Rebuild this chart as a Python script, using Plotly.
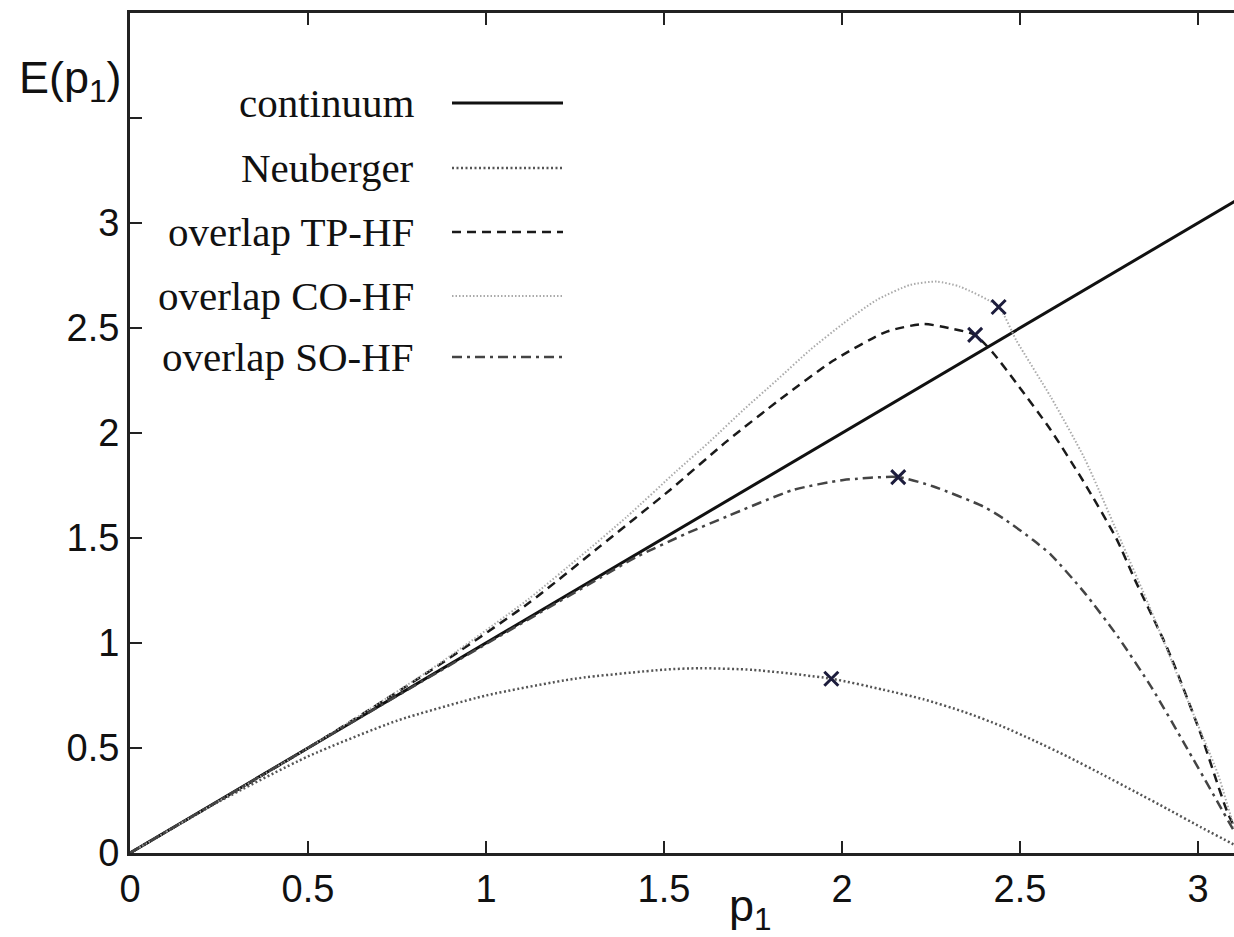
import plotly.graph_objects as go

# ---------------- data ----------------
cont_p = [0.0, 3.1416]
cont_E = [0.0, 3.1416]

neu_p = [0, 0.25, 0.5, 0.75, 1.0, 1.25, 1.5, 1.6, 1.75, 1.97, 2.115, 2.229, 2.343,
         2.447, 2.540, 2.634, 2.728, 2.822, 2.916, 3.009, 3.094, 3.1416]
neu_E = [0, 0.245, 0.46, 0.63, 0.75, 0.83, 0.873, 0.88, 0.872, 0.83, 0.778, 0.732, 0.672,
         0.605, 0.535, 0.459, 0.377, 0.293, 0.208, 0.122, 0.046, 0]

tp_p = [0, 0.5, 0.85, 1.12, 1.32, 1.517, 1.676, 1.826, 1.976, 2.126, 2.229, 2.30, 2.374,
        2.425, 2.49, 2.584, 2.678, 2.77, 2.822, 2.916, 3.009, 3.084, 3.1416]
tp_E = [0, 0.5, 0.875, 1.19, 1.46, 1.729, 1.96, 2.16, 2.345, 2.483, 2.519, 2.50, 2.467,
        2.38, 2.237, 2.02, 1.77, 1.50, 1.304, 0.966, 0.561, 0.189, 0]

co_p = [0, 0.5, 0.85, 1.12, 1.264, 1.395, 1.536, 1.629, 1.723, 1.817, 1.91, 2.004, 2.097,
        2.191, 2.266, 2.331, 2.44, 2.49, 2.587, 2.681, 2.775, 2.869, 2.962, 3.056, 3.103, 3.1416]
co_E = [0, 0.5, 0.88, 1.21, 1.411, 1.60, 1.82, 1.96, 2.11, 2.252, 2.395, 2.522, 2.633,
        2.705, 2.721, 2.697, 2.60, 2.44, 2.17, 1.88, 1.52, 1.152, 0.764, 0.375, 0.122, 0]

so_p = [0, 0.5, 1.0, 1.32, 1.423, 1.564, 1.676, 1.863, 2.004, 2.158, 2.257, 2.397, 2.456,
        2.537, 2.587, 2.681, 2.775, 2.869, 2.962, 3.056, 3.103, 3.1416]
so_E = [0, 0.5, 0.995, 1.31, 1.41, 1.522, 1.602, 1.729, 1.776, 1.79, 1.745, 1.65, 1.59,
        1.49, 1.42, 1.24, 1.03, 0.79, 0.52, 0.24, 0.10, 0]

mark_p = [1.97, 2.158, 2.374, 2.44]
mark_E = [0.83, 1.79, 2.467, 2.60]

legend_labels = ["continuum", "Neuberger", "overlap TP-HF", "overlap CO-HF", "overlap SO-HF"]

x_ticks = [0, 0.5, 1, 1.5, 2, 2.5, 3]
x_tick_text = ["0", "0.5", "1", "1.5", "2", "2.5", "3"]
y_ticks = [0, 0.5, 1, 1.5, 2, 2.5, 3]
y_tick_text = ["0", "0.5", "1", "1.5", "2", "2.5", "3"]
y_minor_ticks = [3.5]

# ---------------- styles ----------------
styles = [
    dict(color="#111111", width=3, dash="solid"),
    dict(color="#555555", width=2.5, dash="2px,2.5px"),
    dict(color="#1a1a1a", width=2.5, dash="9px,6px"),
    dict(color="#aaaaaa", width=2, dash="1.5px,2px"),
    dict(color="#444444", width=2.5, dash="10px,5px,3px,5px"),
]

W, H = 1234, 937
L, R, T, B = 130, 0, 13, 84
PX_PER_X = 356.0
x_max = (W - L - R) / PX_PER_X

fig = go.Figure()
series = [(cont_p, cont_E), (neu_p, neu_E), (tp_p, tp_E), (co_p, co_E), (so_p, so_E)]
for (px, py), st, name in zip(series, styles, legend_labels):
    fig.add_trace(go.Scatter(x=px, y=py, mode="lines", name=name, line=st,
                             line_shape="spline", line_smoothing=0.6, showlegend=False))

fig.add_trace(go.Scatter(x=mark_p, y=mark_E, mode="markers", showlegend=False,
                         marker=dict(symbol="x-thin", size=14,
                                     line=dict(width=3, color="#1c1c3c"))))

# ---------------- helper: pixel -> paper ----------------
pw = W - L - R
ph = H - T - B
def pxx(x):
    return (x - L) / pw
def pyy(y):
    return (H - B - y) / ph

annotations = []
shapes = []
row_y = [103, 168, 232, 296, 357]
for lab, yy, st in zip(legend_labels, row_y, styles):
    annotations.append(dict(x=pxx(416), y=pyy(yy), xref="paper", yref="paper",
                            text=lab, showarrow=False, xanchor="right", yanchor="middle",
                            font=dict(family="Liberation Serif", size=41, color="#111")))
    shapes.append(dict(type="line", xref="paper", yref="paper",
                       x0=pxx(452), x1=pxx(563), y0=pyy(yy), y1=pyy(yy),
                       line=dict(color=st["color"], width=st["width"], dash=st["dash"])))

annotations.append(dict(x=pxx(17), y=pyy(80), xref="paper", yref="paper",
                        text="E(p<sub>1</sub>)", showarrow=False, xanchor="left",
                        yanchor="middle",
                        font=dict(family="Liberation Sans", size=45, color="#111")))
annotations.append(dict(x=pxx(750), y=pyy(908), xref="paper", yref="paper",
                        text="p<sub>1</sub>", showarrow=False, xanchor="center",
                        yanchor="middle",
                        font=dict(family="Liberation Sans", size=45, color="#111")))

fig.update_layout(
    width=W, height=H,
    margin=dict(l=L, r=R, t=T, b=B, pad=0),
    paper_bgcolor="white", plot_bgcolor="white",
    showlegend=False,
    annotations=annotations, shapes=shapes,
    font=dict(family="Liberation Sans", size=38, color="#111"),
)
fig.update_xaxes(range=[0, x_max], tickvals=x_ticks, ticktext=x_tick_text,
                 ticks="inside", ticklen=12, tickwidth=2, tickcolor="#222",
                 showline=True, linewidth=3, linecolor="#222", mirror="ticks",
                 showgrid=False, zeroline=False,
                 tickfont=dict(family="Liberation Sans", size=38, color="#111"))
fig.update_yaxes(range=[0, 4.0], tickvals=y_ticks, ticktext=y_tick_text,
                 ticks="inside", ticklen=12, tickwidth=2, tickcolor="#222",
                 minor=dict(tickvals=y_minor_ticks, ticks="inside", ticklen=12,
                            tickwidth=2, tickcolor="#222", showgrid=False),
                 showline=True, linewidth=3, linecolor="#222", mirror=False,
                 showgrid=False, zeroline=False,
                 tickfont=dict(family="Liberation Sans", size=38, color="#111"))

fig.write_html("out.html", config={"displayModeBar": False},
               post_script="document.body.style.margin='0px';")
